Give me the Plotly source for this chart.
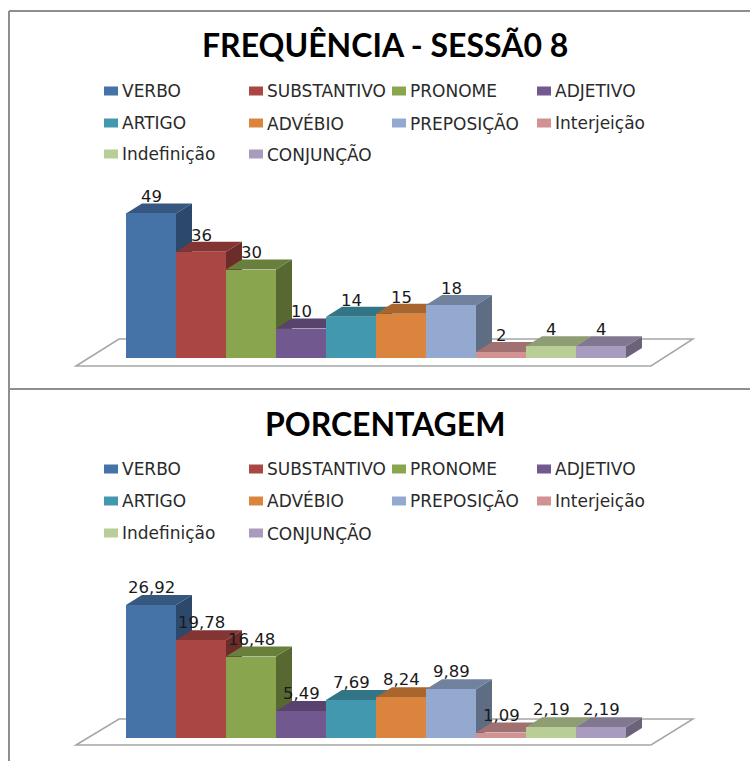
import plotly.graph_objects as go

CATEGORIES = ["VERBO", "SUBSTANTIVO", "PRONOME", "ADJETIVO", "ARTIGO", "ADVÉBIO",
              "PREPOSIÇÃO", "Interjeição", "Indefinição", "CONJUNÇÃO"]
FREQ_VALUES = [49, 36, 30, 10, 14, 15, 18, 2, 4, 4]
PCT_VALUES = [26.92, 19.78, 16.48, 5.49, 7.69, 8.24, 9.89, 1.09, 2.19, 2.19]
COLORS = ["#4572A7", "#AA4643", "#89A54E", "#71588F", "#4198AF",
          "#DB843D", "#93A9CF", "#D19392", "#B9CD96", "#A99BBD"]
TITLES = ["FREQUÊNCIA - SESSÃ0 8", "PORCENTAGEM"]

W, H = 750, 761
FRAME = "#8E8E8E"
BAR_W = 50.0          # pixel width of one category
FIRST_CENTER = 151.0  # pixel centre of the first bar
DEPTH_X, DEPTH_Y = 16.0, 10.0

# One block per chart: pixel bounds, baseline, vertical scale, title and legend rows
PANELS = [
    dict(top=11, bottom=389, base=358, per_unit=2.95, title_y=45, rows=[91, 123, 154],
         floor_front=366, floor_back=339, values=FREQ_VALUES, digits=0, xa="x", ya="y",
         label_shift=-5),
    dict(top=389, bottom=761, base=738, per_unit=4.94, title_y=423, rows=[469, 501, 533],
         floor_front=745, floor_back=719, values=PCT_VALUES, digits=2, xa="x2", ya="y2",
         label_shift=-4),
]
LEGEND_X = [104, 249, 392, 537]


def px(x):
    return x / W


def py(y):
    return 1 - y / H


def shade(color, factor):
    r, g, b = (int(color[i:i + 2], 16) for i in (1, 3, 5))
    return f"rgb({int(r * factor)},{int(g * factor)},{int(b * factor)})"


def poly(points):
    return "M" + " L".join(f"{a},{b}" for a, b in points) + " Z"


fig = go.Figure()
shapes, annotations = [], []

for n, p in enumerate(PANELS):
    xname = "xaxis" if n == 0 else "xaxis2"
    yname = "yaxis" if n == 0 else "yaxis2"
    # Axes fill the panel, scaled so one category is BAR_W pixels and one unit is per_unit pixels
    fig.update_layout({
        xname: dict(domain=[0, 1], range=[-FIRST_CENTER / BAR_W, (W - FIRST_CENTER) / BAR_W],
                    visible=False, fixedrange=True),
        yname: dict(domain=[py(p["bottom"]), py(p["top"])],
                    range=[(p["base"] - p["bottom"]) / p["per_unit"],
                           (p["base"] - p["top"]) / p["per_unit"]],
                    visible=False, fixedrange=True),
    })
    dx = DEPTH_X / BAR_W
    dy = DEPTH_Y / p["per_unit"]
    xs = list(range(len(CATEGORIES)))

    # Floor plate under the bars
    fx = lambda pix: (pix - FIRST_CENTER) / BAR_W
    fy = lambda pix: (p["base"] - pix) / p["per_unit"]
    shapes.append(dict(type="path", xref=p["xa"], yref=p["ya"], layer="below",
                       path=poly([(fx(76), fy(p["floor_front"])), (fx(119), fy(p["floor_back"])),
                                  (fx(693), fy(p["floor_back"])), (fx(651), fy(p["floor_front"]))]),
                       fillcolor="white", line=dict(color="#A6A6A6", width=1.5)))

    # Top and side faces, painted left to right behind the front faces
    for x, v, c in zip(xs, p["values"], COLORS):
        l, r = x - 0.5, x + 0.5
        shapes.append(dict(type="path", xref=p["xa"], yref=p["ya"], layer="below", line_width=0,
                           path=poly([(r, 0), (r + dx, dy), (r + dx, v + dy), (r, v)]),
                           fillcolor=shade(c, 0.64)))
        shapes.append(dict(type="path", xref=p["xa"], yref=p["ya"], layer="below", line_width=0,
                           path=poly([(l, v), (l + dx, v + dy), (r + dx, v + dy), (r, v)]),
                           fillcolor=shade(c, 0.77)))

    fig.add_trace(go.Bar(x=xs, y=p["values"], width=1, marker=dict(color=COLORS, line_width=0),
                         hovertext=CATEGORIES, hoverinfo="text+y", showlegend=False,
                         xaxis=p["xa"], yaxis=p["ya"]))

    # Value labels above each bar
    for x, v in zip(xs, p["values"]):
        annotations.append(dict(x=x, y=v + dy, xref=p["xa"], yref=p["ya"], showarrow=False,
                                text=f"{v:.{p['digits']}f}".replace(".", ","), yanchor="bottom",
                                xanchor="center", yshift=p["label_shift"],
                                font=dict(family="DejaVu Sans", size=16.5, color="#1A1A1A")))

    annotations.append(dict(x=px(385), y=py(p["title_y"]), xref="paper", yref="paper",
                            showarrow=False, text=f"<b>{TITLES[n]}</b>", xanchor="center",
                            yanchor="middle", font=dict(family="Lato", size=32, color="#000000")))

    # Legend grid of colour swatches and names
    for i, (name, c) in enumerate(zip(CATEGORIES, COLORS)):
        row, col = divmod(i, 4)
        lx, ly = LEGEND_X[col], p["rows"][row]
        shapes.append(dict(type="rect", xref="paper", yref="paper", line_width=0, fillcolor=c,
                           x0=px(lx), x1=px(lx + 14), y0=py(ly - 4.5), y1=py(ly + 4.5)))
        annotations.append(dict(x=px(lx + 15.5), y=py(ly), xref="paper", yref="paper", showarrow=False,
                                xanchor="left", yanchor="middle", text=name,
                                font=dict(family="DejaVu Sans", size=17, color="#2A2A2A")))

# Grey frame lines around the two charts
for x0, y0, x1, y1 in [(9, 11, 750, 11), (9, 11, 9, 761), (9, 389, 750, 389)]:
    shapes.append(dict(type="line", xref="paper", yref="paper", x0=px(x0), x1=px(x1),
                       y0=py(y0), y1=py(y1), line=dict(color=FRAME, width=2)))

fig.update_layout(width=W, height=H, margin=dict(l=0, r=0, t=0, b=0), autosize=False,
                  paper_bgcolor="white", plot_bgcolor="rgba(0,0,0,0)", showlegend=False,
                  bargap=0, shapes=shapes, annotations=annotations)
fig.write_html("out.html", config=dict(displayModeBar=False))
